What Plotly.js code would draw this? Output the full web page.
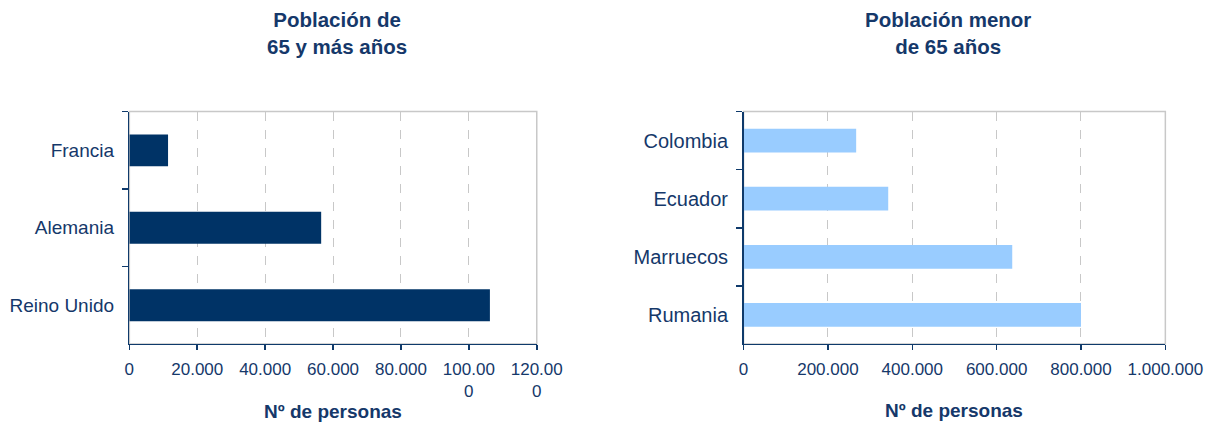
<!DOCTYPE html>
<html>
<head>
<meta charset="utf-8">
<script src="https://cdn.plot.ly/plotly-3.0.1.min.js"></script>
<style>html,body{margin:0;padding:0;background:#fff;}#chart{width:1210px;height:425px;}</style>
</head>
<body>
<div id="chart"></div>
<script>
// Data
const oldCategories = ["Francia", "Alemania", "Reino Unido"];
const oldValues = [11400, 56500, 106200];
const oldTickVals = [0, 20000, 40000, 60000, 80000, 100000, 120000];
const oldTickText = ["0", "20.000", "40.000", "60.000", "80.000", "100.00<br>0", "120.00<br>0"];

const youngCategories = ["Colombia", "Ecuador", "Marruecos", "Rumania"];
const youngValues = [267000, 343000, 637000, 800000];
const youngTickVals = [0, 200000, 400000, 600000, 800000, 1000000];
const youngTickText = ["0", "200.000", "400.000", "600.000", "800.000", "1.000.000"];

const titleLeft = "Población de<br>65 y más años";
const titleRight = "Población menor<br>de 65 años";
const axisTitle = "Nº de personas";

const navy = "#0f3a6b";
const textColor = "#15386a";
const gridColor = "#c8c8c8";
const font = "Liberation Sans, Arial, sans-serif";

const traces = [
  {type: "bar", orientation: "h", x: oldValues, y: oldCategories, xaxis: "x", yaxis: "y",
   marker: {color: "#003366"}, hoverinfo: "x+y"},
  {type: "bar", orientation: "h", x: youngValues, y: youngCategories, xaxis: "x2", yaxis: "y2",
   marker: {color: "#99ccff"}, hoverinfo: "x+y"}
];

function xAxis(domain, range, vals, text, anchor) {
  return {domain: domain, range: range, anchor: anchor, tickmode: "array", tickvals: vals, ticktext: text,
    showgrid: true, gridcolor: gridColor, griddash: "dash", gridwidth: 1,
    showline: true, linecolor: navy, linewidth: 1.5, ticks: "outside", ticklen: 5, tickcolor: navy, tickwidth: 1.5,
    ticklabelstandoff: 4,
    tickfont: {family: font, size: 17, color: textColor}, zeroline: false, fixedrange: true};
}
function yAxis(domain, anchor, size) {
  return {domain: domain, anchor: anchor, type: "category", autorange: "reversed",
    showline: true, linecolor: navy, linewidth: 1.5, ticks: "outside", tickson: "boundaries", ticklen: 6,
    tickcolor: navy, tickwidth: 1.5, ticklabelstandoff: 10,
    tickfont: {family: font, size: size, color: textColor}, showgrid: false, zeroline: false, fixedrange: true};
}

const yDom = [0.1906, 0.7376];
const layout = {
  width: 1210, height: 425,
  margin: {l: 0, r: 0, t: 0, b: 0},
  paper_bgcolor: "#ffffff", plot_bgcolor: "#ffffff",
  showlegend: false, bargap: 0.59,
  font: {family: font, color: textColor},
  xaxis: xAxis([0.1069, 0.4436], [0, 120000], oldTickVals, oldTickText, "y"),
  yaxis: yAxis(yDom, "x", 19),
  xaxis2: xAxis([0.6145, 0.9631], [0, 1000000], youngTickVals, youngTickText, "y2"),
  yaxis2: yAxis(yDom, "x2", 20),
  shapes: [
    {type: "rect", xref: "x domain", yref: "y domain", x0: 0, x1: 1, y0: 0, y1: 1, layer: "below",
     line: {color: gridColor, width: 1.5}},
    {type: "rect", xref: "x2 domain", yref: "y2 domain", x0: 0, x1: 1, y0: 0, y1: 1, layer: "below",
     line: {color: gridColor, width: 1.5}}
  ],
  annotations: [
    {text: "<b>" + titleLeft + "</b>", xref: "paper", yref: "paper", x: 337/1210, y: 1 - 6/425,
     xanchor: "center", yanchor: "top",
     showarrow: false, font: {family: font, size: 20.5, color: textColor}},
    {text: "<b>" + titleRight + "</b>", xref: "paper", yref: "paper", x: 948/1210, y: 1 - 6/425,
     xanchor: "center", yanchor: "top",
     showarrow: false, font: {family: font, size: 20.5, color: textColor}},
    {text: "<b>" + axisTitle + "</b>", xref: "x domain", yref: "paper", x: 0.5, y: 1 - 411/425,
     xanchor: "center", yanchor: "middle",
     showarrow: false, font: {family: font, size: 19, color: textColor}},
    {text: "<b>" + axisTitle + "</b>", xref: "x2 domain", yref: "paper", x: 0.5, y: 1 - 410/425,
     xanchor: "center", yanchor: "middle",
     showarrow: false, font: {family: font, size: 19, color: textColor}}
  ]
};

Plotly.newPlot("chart", traces, layout, {displayModeBar: false, staticPlot: true});
</script>
</body>
</html>
